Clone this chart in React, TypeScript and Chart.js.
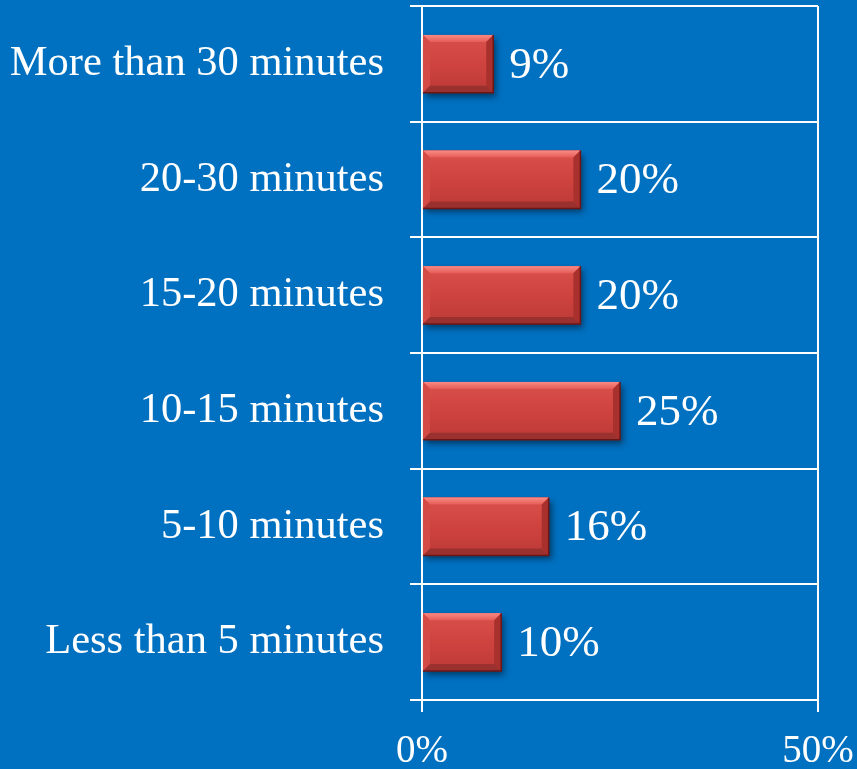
import React, { useEffect, useRef } from "react";
import { Chart, registerables } from "chart.js";

Chart.register(...registerables);

const categories = [
  "More than 30 minutes",
  "20-30 minutes",
  "15-20 minutes",
  "10-15 minutes",
  "5-10 minutes",
  "Less than 5 minutes",
];
const shares = [9, 20, 20, 25, 16, 10];
const axisTicks = [0, 50];

const BG = "#0070C0";
const SERIF = '"Liberation Serif", "Times New Roman", serif';

// Drop shadow behind the bars, then bevelled edges and value labels on top.
const bevelPlugin = {
  id: "bevelBars",
  beforeDatasetsDraw(chart: any) {
    const ctx = chart.ctx;
    ctx.save();
    ctx.shadowColor = "rgba(0,0,0,0.45)";
    ctx.shadowOffsetX = 3;
    ctx.shadowOffsetY = 4;
    ctx.shadowBlur = 6;
  },
  afterDatasetsDraw(chart: any) {
    const ctx = chart.ctx;
    ctx.restore();
    const meta = chart.getDatasetMeta(0);
    const data = chart.data.datasets[0].data as number[];
    meta.data.forEach((bar: any, i: number) => {
      const l = Math.min(bar.base, bar.x);
      const r = Math.max(bar.base, bar.x);
      const t = bar.y - bar.height / 2;
      const b = bar.y + bar.height / 2;
      const bv = 7;
      ctx.save();
      // body shading
      const body = ctx.createLinearGradient(0, t, 0, b);
      body.addColorStop(0, "#D9504B");
      body.addColorStop(0.5, "#CF433F");
      body.addColorStop(1, "#BC3A37");
      ctx.fillStyle = body;
      ctx.fillRect(l, t, r - l, b - t);
      // top bevel
      const top = ctx.createLinearGradient(0, t, 0, t + bv);
      top.addColorStop(0, "#FA8A84");
      top.addColorStop(1, "#E55C57");
      ctx.fillStyle = top;
      ctx.beginPath();
      ctx.moveTo(l, t);
      ctx.lineTo(r, t);
      ctx.lineTo(r - bv, t + bv);
      ctx.lineTo(l + bv, t + bv);
      ctx.closePath();
      ctx.fill();
      // left bevel
      ctx.fillStyle = "#D44A45";
      ctx.beginPath();
      ctx.moveTo(l, t);
      ctx.lineTo(l + bv, t + bv);
      ctx.lineTo(l + bv, b - bv);
      ctx.lineTo(l, b);
      ctx.closePath();
      ctx.fill();
      // right bevel
      ctx.fillStyle = "#A8302D";
      ctx.beginPath();
      ctx.moveTo(r, t);
      ctx.lineTo(r, b);
      ctx.lineTo(r - bv, b - bv);
      ctx.lineTo(r - bv, t + bv);
      ctx.closePath();
      ctx.fill();
      // bottom bevel
      ctx.fillStyle = "#9A312E";
      ctx.beginPath();
      ctx.moveTo(l, b);
      ctx.lineTo(r, b);
      ctx.lineTo(r - bv, b - bv);
      ctx.lineTo(l + bv, b - bv);
      ctx.closePath();
      ctx.fill();
      // dark outline on the right and bottom
      ctx.strokeStyle = "#6E1616";
      ctx.lineWidth = 1.5;
      ctx.beginPath();
      ctx.moveTo(r, t);
      ctx.lineTo(r, b);
      ctx.lineTo(l, b);
      ctx.stroke();
      ctx.restore();

      // value label
      ctx.save();
      ctx.fillStyle = "#FFFFFF";
      ctx.font = `45px ${SERIF}`;
      ctx.textAlign = "left";
      ctx.textBaseline = "middle";
      ctx.fillText(`${data[i]}%`, r + 16, bar.y + 2);
      ctx.restore();
    });
  },
};

export default function App() {
  const canvasRef = useRef<HTMLCanvasElement | null>(null);

  useEffect(() => {
    if (!canvasRef.current) return;
    const chart = new Chart(canvasRef.current, {
      type: "bar",
      data: {
        labels: categories,
        datasets: [
          {
            data: shares,
            backgroundColor: "#CF433F",
            borderWidth: 0,
            barPercentage: 0.5,
            categoryPercentage: 1,
          },
        ],
      },
      options: {
        indexAxis: "y",
        responsive: false,
        animation: false,
        layout: { padding: { left: 10, right: 39, top: 6, bottom: 0 } },
        plugins: {
          legend: { display: false },
          tooltip: { enabled: false },
        },
        scales: {
          x: {
            type: "linear",
            min: axisTicks[0],
            max: axisTicks[axisTicks.length - 1],
            afterBuildTicks: (scale: any) => {
              scale.ticks = axisTicks.map((v) => ({ value: v }));
            },
            afterFit: (scale: any) => {
              scale.paddingLeft = 0;
              scale.paddingRight = 0;
              scale.height = 69;
            },
            ticks: {
              color: "#FFFFFF",
              font: { family: SERIF, size: 39, lineHeight: 1 },
              padding: 20,
              callback: (v: any) => `${v}%`,
            },
            grid: {
              color: "#FFFFFF",
              lineWidth: 2,
              tickLength: 12,
            },
            border: { display: false },
          },
          y: {
            type: "category",
            afterFit: (scale: any) => {
              scale.paddingTop = 0;
              scale.paddingBottom = 0;
              scale.width = 412;
            },
            ticks: {
              color: "#FFFFFF",
              font: { family: SERIF, size: 42.5 },
              padding: 26,
            },
            grid: {
              color: "#FFFFFF",
              lineWidth: 2,
              tickLength: 12,
              offset: true,
            },
            border: { display: true, color: "#FFFFFF", width: 2 },
          },
        },
      },
      plugins: [bevelPlugin],
    });
    return () => chart.destroy();
  }, []);

  return (
    <div
      style={{
        position: "fixed",
        left: 0,
        top: 0,
        width: 857,
        height: 769,
        background: BG,
      }}
    >
      <canvas
        ref={canvasRef}
        width={857}
        height={769}
        style={{ display: "block", width: 857, height: 769 }}
      />
    </div>
  );
}
